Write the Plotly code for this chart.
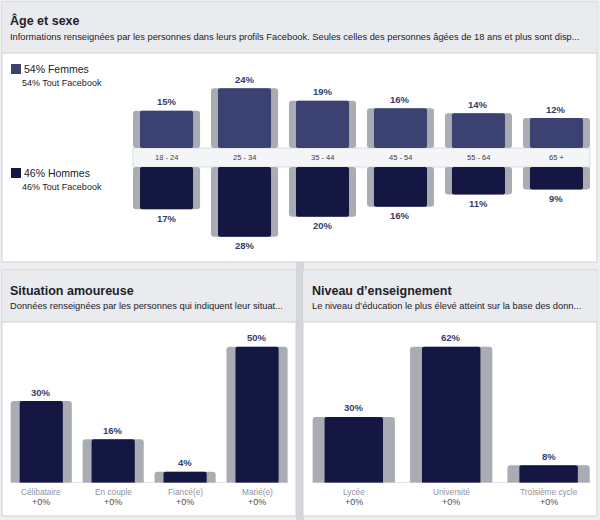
import plotly.graph_objects as go

# ---------------- data ----------------
ages = ["18 - 24", "25 - 34", "35 - 44", "45 - 54", "55 - 64", "65 +"]
female = [15, 24, 19, 16, 14, 12]
male = [17, 28, 20, 16, 11, 9]
fb_female = [15, 24, 19, 16, 14, 12]
fb_male = [17, 28, 20, 16, 11, 9]

rel_cats = ["Célibataire", "En couple", "Fiancé(e)", "Marié(e)"]
rel_vals = [30, 16, 4, 50]
rel_fb = [30, 16, 4, 50]
rel_delta = ["+0%", "+0%", "+0%", "+0%"]

edu_cats = ["Lycée", "Université", "Troisième cycle"]
edu_vals = [30, 62, 8]
edu_fb = [30, 62, 8]
edu_delta = ["+0%", "+0%", "+0%"]

# ---------------- style ----------------
W, H = 600, 520
FONT = "Liberation Sans, Arial, Helvetica, sans-serif"
C_F = "#3b4170"
C_M = "#141741"
GRAY = "#a9acb3"
LBL = "#363d6b"
TXT = "#1d2129"
BORDER = "#cdd0d5"
HEAD = "#e9ebee"


def fx(x):
    return x / W


def fy(y):
    return 1 - y / H


fig = go.Figure()

# ---- top chart (age & gender) ----
S_TOP = 2.49          # px per %
BAND_C, BAND_H = 157.5, 9.5
G = BAND_H / S_TOP
y_top_px, y_bot_px = 62, 252
top_range = [(BAND_C - y_bot_px) / S_TOP, (BAND_C - y_top_px) / S_TOP]

fig.add_bar(x=ages, y=fb_female, base=G, width=0.86, xaxis="x", yaxis="y",
            marker=dict(color=GRAY, cornerradius=3, line_width=0), hoverinfo="skip")
fig.add_bar(x=ages, y=[-v for v in fb_male], base=-G, width=0.86, xaxis="x", yaxis="y",
            marker=dict(color=GRAY, cornerradius=3, line_width=0), hoverinfo="skip")
fig.add_bar(x=ages, y=female, base=G, width=0.68, xaxis="x", yaxis="y",
            marker=dict(color=C_F, cornerradius=2, line_width=0), hoverinfo="skip")
fig.add_bar(x=ages, y=[-v for v in male], base=-G, width=0.68, xaxis="x", yaxis="y",
            marker=dict(color=C_M, cornerradius=2, line_width=0), hoverinfo="skip")

# ---- relationship ----
S_REL_MAX = 136.0
fig.add_bar(x=rel_cats, y=rel_fb, width=0.85, xaxis="x2", yaxis="y2",
            marker=dict(color=GRAY, cornerradius=3, line_width=0), hoverinfo="skip")
fig.add_bar(x=rel_cats, y=rel_vals, width=0.6, xaxis="x2", yaxis="y2",
            marker=dict(color=C_M, cornerradius=2, line_width=0), hoverinfo="skip")

# ---- education ----
fig.add_bar(x=edu_cats, y=edu_fb, width=0.845, xaxis="x3", yaxis="y3",
            marker=dict(color=GRAY, cornerradius=3, line_width=0), hoverinfo="skip")
fig.add_bar(x=edu_cats, y=edu_vals, width=0.6, xaxis="x3", yaxis="y3",
            marker=dict(color=C_M, cornerradius=2, line_width=0), hoverinfo="skip")

base_px = 482.7
rel_range = [0, (base_px - 330) / (S_REL_MAX / max(rel_vals))]
edu_range = [0, (base_px - 330) / (S_REL_MAX / max(edu_vals))]

ax_common = dict(showgrid=False, zeroline=False, showticklabels=False, showline=False,
                 ticks="", fixedrange=True)

fig.update_layout(
    width=W, height=H, margin=dict(l=0, r=0, t=0, b=0),
    paper_bgcolor="#eceef0", plot_bgcolor="rgba(0,0,0,0)",
    barmode="overlay", showlegend=False, font=dict(family=FONT, color=TXT),
    xaxis=dict(domain=[fx(133), fx(590)], range=[-0.43, 5.43], anchor="y", **ax_common),
    yaxis=dict(domain=[fy(y_bot_px), fy(y_top_px)], range=top_range, anchor="x", **ax_common),
    xaxis2=dict(domain=[fx(5.3), fx(293)], range=[-0.5, 3.5], anchor="y2", **ax_common),
    yaxis2=dict(domain=[fy(base_px), fy(330)], range=rel_range, anchor="x2", **ax_common),
    xaxis3=dict(domain=[fx(305.1), fx(597.3)], range=[-0.5, 2.5], anchor="y3", **ax_common),
    yaxis3=dict(domain=[fy(base_px), fy(330)], range=edu_range, anchor="x3", **ax_common),
)

shapes = []


def prect(x0, y0, x1, y1, fill, line=None, lw=0):
    shapes.append(dict(type="rect", xref="paper", yref="paper", layer="below",
                       x0=fx(x0), x1=fx(x1), y0=fy(y1), y1=fy(y0), fillcolor=fill,
                       line=dict(color=line or fill, width=lw)))


def pline(x0, y0, x1, y1, color, lw=1):
    shapes.append(dict(type="line", xref="paper", yref="paper", layer="below",
                       x0=fx(x0), x1=fx(x1), y0=fy(y0), y1=fy(y1),
                       line=dict(color=color, width=lw)))


# gap column between lower panels
prect(296, 262, 304, 520, "#d5d6da")
# panels
for (x0, y0, x1, y1, hb) in [(2, 2, 597, 262, 53), (2, 270, 296, 516, 322), (303, 270, 597, 516, 322)]:
    prect(x0, y0, x1, y1, "white", BORDER, 1)
    prect(x0 + 0.5, y0 + 0.5, x1 - 0.5, hb, HEAD)
    pline(x0, hb, x1, hb, BORDER)

# band behind age labels
prect(133, BAND_C - BAND_H, 590, BAND_C + BAND_H, "#f4f5f6", "#d9dbde", 1)
# legend squares
prect(11, 64, 21, 74, C_F)
prect(11, 168, 21, 178, C_M)

# baselines of lower charts
shapes.append(dict(type="line", xref="x2", yref="y2", layer="below", x0=-0.43, x1=3.43,
                   y0=0, y1=0, line=dict(color="#d3d5d9", width=1)))
shapes.append(dict(type="line", xref="x3", yref="y3", layer="below", x0=-0.43, x1=2.43,
                   y0=0, y1=0, line=dict(color="#d3d5d9", width=1)))

fig.update_layout(shapes=shapes)

ann = []


def ptext(x, y, text, size, color=TXT, bold=False, xanchor="left"):
    ann.append(dict(xref="paper", yref="paper", x=fx(x), y=fy(y), text=f"<b>{text}</b>" if bold else text,
                    showarrow=False, xanchor=xanchor, yanchor="middle",
                    font=dict(size=size, color=color, family=FONT)))


ptext(8, 21, "Âge et sexe", 12.5, bold=True)
ptext(8, 37.5, "Informations renseignées par les personnes dans leurs profils Facebook. Seules celles des personnes âgées de 18 ans et plus sont disp...", 9.3)
ptext(8, 291, "Situation amoureuse", 12.5, bold=True)
ptext(8, 305.5, "Données renseignées par les personnes qui indiquent leur situat...", 9.3)
ptext(310, 291, "Niveau d’enseignement", 12.5, bold=True)
ptext(310, 305.5, "Le niveau d’éducation le plus élevé atteint sur la base des donn...", 9.3)

ptext(22, 69, "54% Femmes", 10.5)
ptext(20, 83, "54% Tout Facebook", 9)
ptext(22, 173, "46% Hommes", 10.5)
ptext(20, 186.5, "46% Tout Facebook", 9)

for a, f, m in zip(ages, female, male):
    ann.append(dict(xref="x", yref="y", x=a, y=0, text=a, showarrow=False,
                    font=dict(size=7.5, color="#3d4047", family=FONT)))
    ann.append(dict(xref="x", yref="y", x=a, y=G + f, yshift=9, text=f"<b>{f}%</b>",
                    showarrow=False, yanchor="middle", font=dict(size=9.5, color=LBL, family=FONT)))
    ann.append(dict(xref="x", yref="y", x=a, y=-G - m, yshift=-9, text=f"<b>{m}%</b>",
                    showarrow=False, yanchor="middle", font=dict(size=9.5, color=LBL, family=FONT)))

for xr, yr, cats, vals, deltas in [("x2", "y2", rel_cats, rel_vals, rel_delta),
                                   ("x3", "y3", edu_cats, edu_vals, edu_delta)]:
    for c, v, d in zip(cats, vals, deltas):
        ann.append(dict(xref=xr, yref=yr, x=c, y=v, yshift=9, text=f"<b>{v}%</b>",
                        showarrow=False, yanchor="middle", font=dict(size=9.5, color=LBL, family=FONT)))
        ann.append(dict(xref=xr, yref="paper", x=c, y=fy(491.7), text=c, showarrow=False,
                        yanchor="middle", font=dict(size=8.3, color="#90949c", family=FONT)))
        ann.append(dict(xref=xr, yref="paper", x=c, y=fy(501.7), text=d, showarrow=False,
                        yanchor="middle", font=dict(size=9, color="#4b4f56", family=FONT)))

fig.update_layout(annotations=ann)
fig.write_html(
    "out.html",
    config={"displayModeBar": False},
    post_script="document.body.style.margin='0';document.body.style.padding='0';",
)
